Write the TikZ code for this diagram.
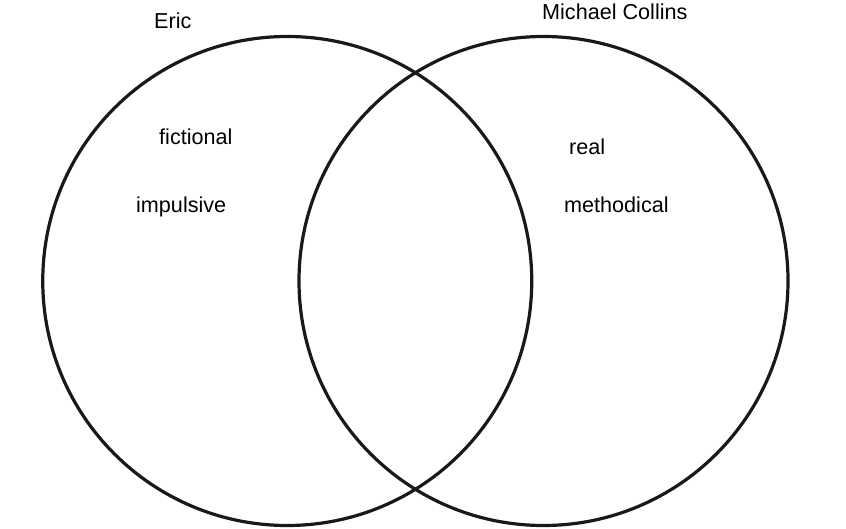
\documentclass[tikz,border=0pt]{standalone}
\usepackage{fontspec}
\setmainfont{Liberation Sans}
\begin{document}
\begin{tikzpicture}[x=1pt,y=-1pt,
  ring/.style={circle,draw=black!90,line width=3.2pt,minimum size=489pt,inner sep=0pt},
  lbl/.style={anchor=base west,inner sep=0pt,font=\fontsize{21.6}{26}\selectfont}]
\useasboundingbox[fill=white] (0,0) rectangle (846,529);
\node[ring] (left) at (287.25,281) {};
\node[ring] (right) at (543.5,281) {};
\node[lbl] (eric) at (154,29) {Eric};
\node[lbl] (mc) at (542,20) {Michael Collins};
\node[lbl] (fic) at (159,145) {fictional};
\node[lbl] (imp) at (136,213) {impulsive};
\node[lbl] (real) at (569,155) {real};
\node[lbl] (meth) at (564,213) {methodical};
\end{tikzpicture}
\end{document}
